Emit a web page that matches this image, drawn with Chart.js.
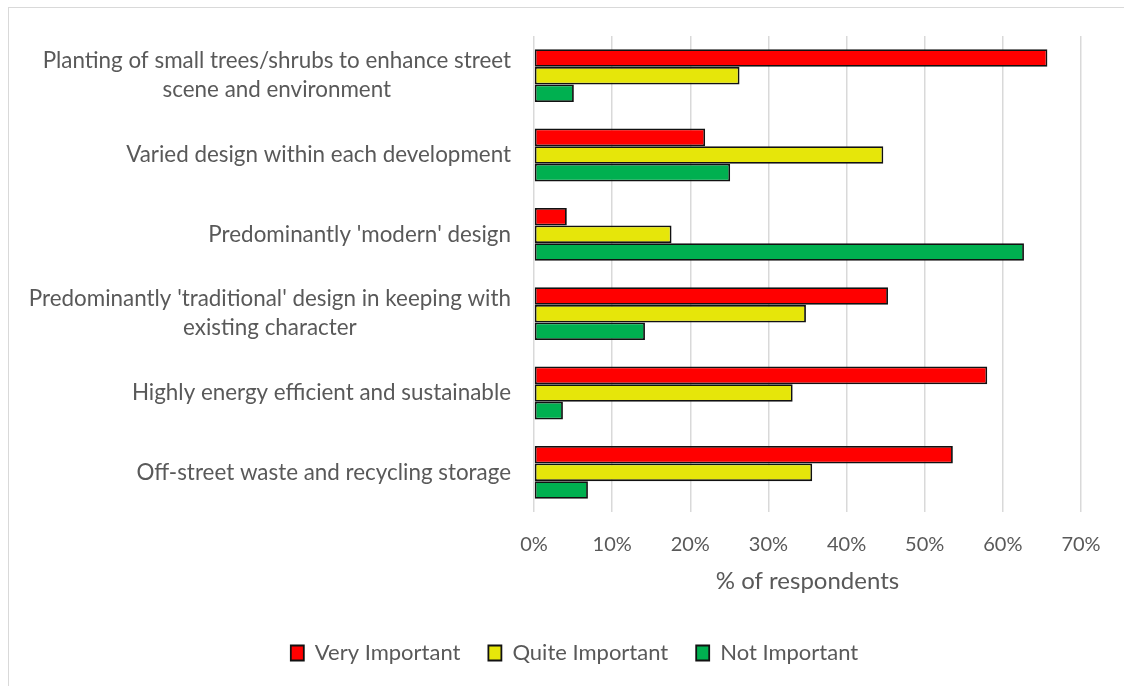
<!DOCTYPE html>
<html>
<head>
<meta charset="utf-8">
<script src="https://cdn.jsdelivr.net/npm/chart.js@4.4.0/dist/chart.umd.min.js"></script>
<style>
  html, body { margin: 0; padding: 0; background: #fff; overflow: hidden; }
  #wrap { position: relative; width: 1124px; height: 686px; }
  #frame { position: absolute; left: 8px; top: 7px; width: 1140px; height: 700px;
           border: 1.5px solid #d9d9d9; box-sizing: border-box; }
  canvas { position: absolute; left: 0; top: 0; }
</style>
</head>
<body>
<div id="wrap">
  <div id="frame"></div>
  <canvas id="chart" width="1124" height="686"></canvas>
</div>
<script>
const categories = [
  ['Planting of small trees/shrubs to enhance street', 'scene and environment'],
  'Varied design within each development',
  "Predominantly 'modern' design",
  ["Predominantly 'traditional' design in keeping with", 'existing character'],
  'Highly energy efficient and sustainable',
  'Off-street waste and recycling storage'
];
const veryImportant  = [65.7, 21.9, 4.2, 45.3, 58.0, 53.6];
const quiteImportant = [26.3, 44.7, 17.6, 34.8, 33.1, 35.6];
const notImportant   = [5.1, 25.1, 62.7, 14.2, 3.7, 6.9];

const textColor = '#595959';
const fontFamily = 'Lato';
const labelSize = 22.4;

Chart.defaults.font.family = fontFamily;
Chart.defaults.color = textColor;

// category labels: single lines right aligned, wrapped ones centred on their longest line
const catLabels = {
  id: 'catLabels',
  afterDraw(chart) {
    const ctx = chart.ctx;
    const y = chart.scales.y;
    ctx.save();
    ctx.font = labelSize + 'px ' + fontFamily;
    ctx.fillStyle = textColor;
    ctx.textAlign = 'center';
    ctx.textBaseline = 'middle';
    categories.forEach((lab, i) => {
      const lines = Array.isArray(lab) ? lab : [lab];
      const w = Math.max(...lines.map(l => ctx.measureText(l).width));
      const cx = chart.chartArea.left - 23 - w / 2;
      const cy = y.getPixelForValue(i);
      lines.forEach((l, j) => {
        ctx.fillText(l, cx, cy + (j - (lines.length - 1) / 2) * 29);
      });
    });
    ctx.restore();
  }
};

// legend sits a little right of the canvas centre in the original
const legendShift = {
  id: 'legendShift',
  afterLayout(chart) {
    chart.legend.left += 34;
    chart.legend.right += 34;
  }
};

const mkSet = (label, data, color) => ({
  label: label,
  data: data,
  backgroundColor: color,
  borderColor: '#111',
  borderWidth: 1.8,
  borderSkipped: false,
  categoryPercentage: 0.667,
  barPercentage: 1
});

new Chart(document.getElementById('chart'), {
  type: 'bar',
  data: {
    labels: categories,
    datasets: [
      mkSet('Very Important', veryImportant, '#ff0000'),
      mkSet('Quite Important', quiteImportant, '#e6e60a'),
      mkSet('Not Important', notImportant, '#00b050')
    ]
  },
  options: {
    indexAxis: 'y',
    responsive: false,
    animation: false,
    layout: { padding: { left: 0, right: 43, top: 36, bottom: 12 } },
    scales: {
      x: {
        min: 0,
        max: 70,
        ticks: { stepSize: 10, padding: 21, font: { size: 20 }, callback: v => v + '%' },
        grid: { color: '#d9d9d9', lineWidth: 1.5, drawTicks: false },
        border: { display: false },
        title: { display: true, text: '% of respondents', font: { size: 24 }, padding: { top: 0, bottom: 18 } },
        afterFit: s => { s.height = 102; }
      },
      y: {
        ticks: { display: false },
        grid: { display: false },
        border: { display: false },
        afterFit: s => { s.width = 534; }
      }
    },
    plugins: {
      tooltip: { enabled: false },
      legend: {
        position: 'bottom',
        labels: { boxWidth: 13, boxHeight: 15, padding: 28, font: { size: 22 } }
      }
    }
  },
  plugins: [catLabels, legendShift]
});
</script>
</body>
</html>
